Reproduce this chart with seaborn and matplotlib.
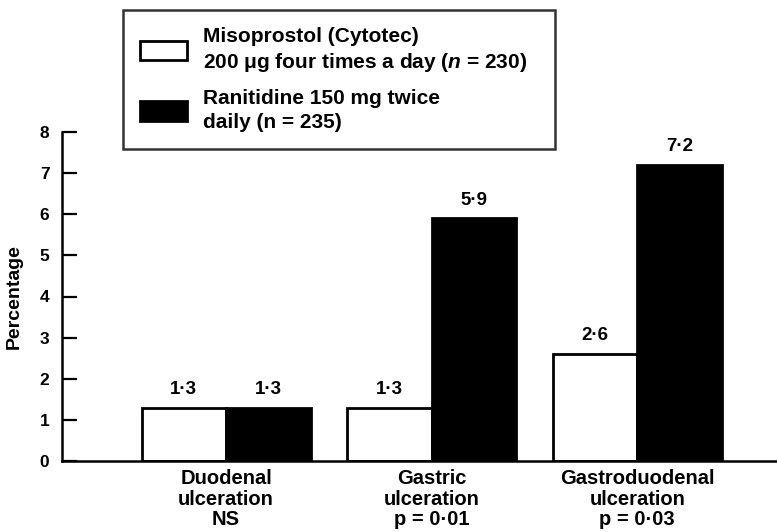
import matplotlib
matplotlib.use("Agg")
import matplotlib.pyplot as plt
import seaborn as sns
import pandas as pd
from matplotlib.patches import Patch

categories = ["Duodenal\nulceration\nNS", "Gastric\nulceration\np = 0·01", "Gastroduodenal\nulceration\np = 0·03"]
series_names = ["Misoprostol", "Ranitidine"]
misoprostol = [1.3, 1.3, 2.6]
ranitidine = [1.3, 5.9, 7.2]
yticks = [0, 1, 2, 3, 4, 5, 6, 7, 8]
legend_labels = ["Misoprostol (Cytotec)\n200 μg four times a day ($\\mathit{n}$ = 230)",
                 "Ranitidine 150 mg twice\ndaily (n = 235)"]

sns.set_theme(style="white")
plt.rcParams['font.family'] = ['Liberation Sans', 'DejaVu Sans']
plt.rcParams['mathtext.fontset'] = 'custom'
plt.rcParams['mathtext.it'] = 'Liberation Sans:italic:bold'
plt.rcParams['mathtext.rm'] = 'Liberation Sans:bold'
for k in ['text.color', 'axes.labelcolor', 'xtick.color', 'ytick.color']:
    plt.rcParams[k] = 'black'

df = pd.DataFrame({
    "category": categories * 2,
    "series": [series_names[0]] * 3 + [series_names[1]] * 3,
    "value": misoprostol + ranitidine,
})

W, H = 777, 532
fig = plt.figure(figsize=(W / 100, H / 100), dpi=100)
ax = fig.add_axes([62 / W, 71 / H, (W - 62) / W, (461 - 132) / H])

sns.barplot(data=df, x="category", y="value", hue="series", order=categories,
            hue_order=series_names, palette=["white", "black"], width=0.822,
            edgecolor="black", linewidth=2.0, ax=ax, legend=False)

for container in ax.containers:
    for bar in container:
        v = bar.get_height()
        ax.annotate(f"{v:.1f}".replace(".", "·"),
                    (bar.get_x() + bar.get_width() / 2, v),
                    xytext=(0, 7), textcoords="offset points",
                    ha="center", va="bottom", fontsize=13.5, fontweight="bold")

ax.set_xlim(-0.798, 2.68)
ax.set_ylim(0, 8)
ax.set_yticks(yticks)
ax.set_yticklabels([str(t) for t in yticks], fontsize=12.5, fontweight="bold")
ax.tick_params(axis="y", direction="in", length=11, width=1.6, pad=9, left=True)
ax.tick_params(axis="x", length=0, pad=6)
for lab in ax.get_xticklabels():
    lab.set_fontsize(14.5)
    lab.set_fontweight("bold")
    lab.set_linespacing(1.08)
ax.set_xlabel("")
ax.set_ylabel("Percentage", fontsize=14, fontweight="bold", labelpad=12)
sns.despine(ax=ax, top=True, right=True)
for s in ["left", "bottom"]:
    ax.spines[s].set_linewidth(1.8)
    ax.spines[s].set_color("black")

handles = [Patch(facecolor="white", edgecolor="black", linewidth=2),
           Patch(facecolor="black", edgecolor="black", linewidth=2)]
leg = fig.legend(handles, legend_labels, loc="upper left",
                 bbox_to_anchor=(123 / W, 1 - 152 / H, 432 / W, 142 / H),
                 mode="expand",
                 prop={"size": 15, "weight": "bold"},
                 frameon=True, fancybox=False, edgecolor="black",
                 handlelength=2.25, handleheight=1.05, handletextpad=0.8,
                 borderpad=0.8, labelspacing=0.75, borderaxespad=0)
leg.get_frame().set_linewidth(1.8)
for t in leg.get_texts():
    t.set_linespacing(1.3)

fig.savefig("out.png", dpi=100)
